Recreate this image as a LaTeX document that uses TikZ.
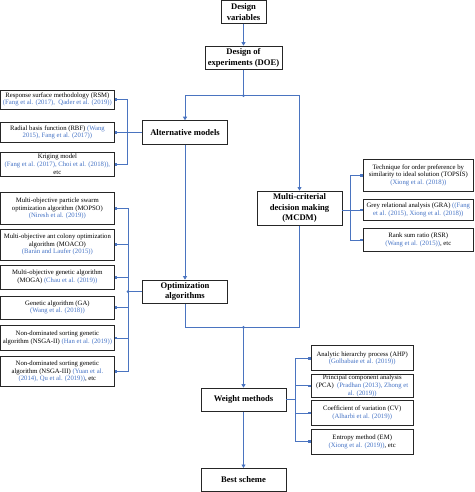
\documentclass[tikz,border=0pt]{standalone}
\usepackage{fontspec}
\setmainfont{Liberation Serif}
\usetikzlibrary{arrows.meta}
\definecolor{lb}{HTML}{4A74C0}
\definecolor{cite}{HTML}{4472C4}
\begin{document}
\begin{tikzpicture}[x=1pt,y=-1pt,
  mainbox/.style={draw=black!85, line width=0.8pt, align=center, inner sep=0pt, font=\fontsize{8.6}{10.5}\selectfont\bfseries},
  subbox/.style={draw=black!85, line width=0.8pt, align=center, inner sep=0pt, font=\fontsize{6.7}{7.6}\selectfont},
  conn/.style={draw=lb, line width=0.75pt},
  arr/.style={conn, -{Triangle[width=4pt,length=3.5pt]}},
  sq/.style={conn, -{Square[length=2.5pt,width=2.5pt]}},
  jdot/.style={circle, fill=lb, inner sep=0pt, minimum size=3pt},
]
\useasboundingbox (0,0) rectangle (474,492);
% main boxes
\node[mainbox, minimum width=45pt, minimum height=23pt] (dv) at (243.5,12) {Design\\variables};
\node[mainbox, minimum width=77pt, minimum height=23.3pt] (doe) at (243.5,57.7) {Design of\\experiments (DOE)};
\node[mainbox, minimum width=84.5pt, minimum height=23.7pt] (alt) at (185,132.5) {Alternative models};
\node[mainbox, minimum width=85pt, minimum height=23.3pt] (opt) at (185,291.7) {Optimization\\algorithms};
\node[mainbox, minimum width=85pt, minimum height=34.7pt] (mcdm) at (299.5,208.3) {Multi-criterial\\decision making\\(MCDM)};
\node[mainbox, minimum width=85pt, minimum height=23.5pt] (wm) at (243.5,399.8) {Weight methods};
\node[mainbox, minimum width=85pt, minimum height=23.2pt] (best) at (243.5,480) {Best scheme};
% left boxes (alternative models)
\node[subbox, minimum width=113.8pt, minimum height=19pt] (rsm) at (57.4,99.5) {Response surface methodology (RSM)\\\textcolor{cite}{(Fang et al. (2017),\ \ Qader et al. (2019))}};
\node[subbox, minimum width=113.8pt, minimum height=20pt] (rbf) at (57.4,132.5) {Radial basis function (RBF) \textcolor{cite}{(Wang}\\\textcolor{cite}{2015), Fang et al. (2017))}};
\node[subbox, minimum width=113.8pt, minimum height=23.3pt] (krig) at (57.4,164.3) {Kriging model\\\textcolor{cite}{(Fang et al. (2017), Choi et al. (2018)),}\\etc};
% left boxes (optimization)
\node[subbox, minimum width=113.8pt, minimum height=31.3pt] (mopso) at (57.4,208.4) {Multi-objective particle swarm\\optimization algorithm (MOPSO)\\\textcolor{cite}{(Niresh et al. (2019))}};
\node[subbox, minimum width=113.8pt, minimum height=30.7pt] (moaco) at (57.4,244.7) {Multi-objective ant colony optimization\\algorithm (MOACO)\\\textcolor{cite}{(Barán and Laufer (2015))}};
\node[subbox, minimum width=113.8pt, minimum height=24pt] (moga) at (57.4,277) {Multi-objective genetic algorithm\\(MOGA) \textcolor{cite}{(Chau et al. (2019))}};
\node[subbox, minimum width=113.8pt, minimum height=23pt] (ga) at (57.4,307.5) {Genetic algorithm (GA)\\\textcolor{cite}{(Wang et al. (2018))}};
\node[subbox, minimum width=113.8pt, minimum height=24.3pt] (nsgaa) at (57.4,337.9) {Non-dominated sorting genetic\\algorithm (NSGA-II) \textcolor{cite}{(Han et al. (2019))}};
\node[subbox, minimum width=113.8pt, minimum height=30pt] (nsgab) at (57.4,371.7) {Non-dominated sorting genetic\\algorithm (NSGA-III) \textcolor{cite}{(Yuan et al.}\\\textcolor{cite}{(2014), Qu et al. (2019))}, etc};
% right boxes (MCDM)
\node[subbox, minimum width=110pt, minimum height=32pt] (topsis) at (418.3,175) {Technique for order preference by\\similarity to ideal solution (TOPSIS)\\\textcolor{cite}{(Xiong et al. (2018))}};
\node[subbox, minimum width=110pt, minimum height=21.7pt] (gra) at (418.3,209.9) {Grey relational analysis (GRA) \textcolor{cite}{((Fang}\\\textcolor{cite}{et al. (2015), Xiong et al. (2018))}};
\node[subbox, minimum width=110pt, minimum height=23.7pt] (rsr) at (418.3,239.9) {Rank sum ratio (RSR)\\\textcolor{cite}{(Wang et al. (2015))}, etc};
% right boxes (weight methods)
\node[subbox, minimum width=102.3pt, minimum height=25pt] (ahp) at (362.2,358.2) {Analytic hierarchy process (AHP)\\\textcolor{cite}{(Golbabaie et al. (2019))}};
\node[subbox, minimum width=102.3pt, minimum height=23pt] (pca) at (362.2,385.8) {Principal component analysis\\(PCA)\ \ \textcolor{cite}{(Pradhan (2013), Zhong et}\\\textcolor{cite}{al. (2019))}};
\node[subbox, minimum width=102.3pt, minimum height=24.3pt] (cv) at (362.2,412.9) {Coefficient of variation (CV)\\\textcolor{cite}{(Alharbi et al. (2019))}};
\node[subbox, minimum width=102.3pt, minimum height=24.7pt] (em) at (362.2,441.7) {Entropy method (EM)\\\textcolor{cite}{(Xiong et al. (2019))}, etc};
% main flow
\draw[arr] (dv) -- (doe);
\coordinate (ja) at (243.5,95.7);
\draw[conn] (doe.south) -- (ja);
\draw[arr] (ja) -| (alt.north);
\draw[arr] (ja) -| (mcdm.north);
\node[jdot] at (ja) {};
\draw[arr] (alt) -- (opt);
\coordinate (jb) at (243.5,327.3);
\draw[conn] (opt.south) |- (jb);
\draw[conn] (mcdm.south) |- (jb);
\node[jdot] at (jb) {};
\draw[arr] (jb) -- (wm.north);
\draw[arr] (wm) -- (best);
% alternative models bus
\coordinate (bxa) at (127.7,0);
\draw[sq] (alt.west) -- (alt.west -| rbf.east);
\draw[sq] (bxa |- alt.west) -- (bxa |- rsm.east) -- (rsm.east);
\draw[sq] (bxa |- alt.west) -- (bxa |- krig.east) -- (krig.east);
% optimization bus
\coordinate (bxb) at (128,0);
\draw[conn] (opt.west) -- (bxb |- opt.west);
\foreach \n in {mopso,moaco,moga,ga,nsgaa,nsgab}
  \draw[sq] (bxb |- opt.west) -- (bxb |- \n.east) -- (\n.east);
\node[jdot] at (bxb |- opt.west) {};
% MCDM bus
\coordinate (bxc) at (350.7,0);
\draw[sq] (mcdm.east |- gra.west) -- (gra.west);
\draw[sq] (bxc |- gra.west) -- (bxc |- topsis.west) -- (topsis.west);
\draw[sq] (bxc |- gra.west) -- (bxc |- rsr.west) -- (rsr.west);
% weight methods bus
\coordinate (bxd) at (295,0);
\draw[conn] (wm.east) -- (bxd |- wm.east);
\foreach \n in {ahp,pca,cv,em}
  \draw[sq] (bxd |- wm.east) -- (bxd |- \n.west) -- (\n.west);
\end{tikzpicture}
\end{document}
